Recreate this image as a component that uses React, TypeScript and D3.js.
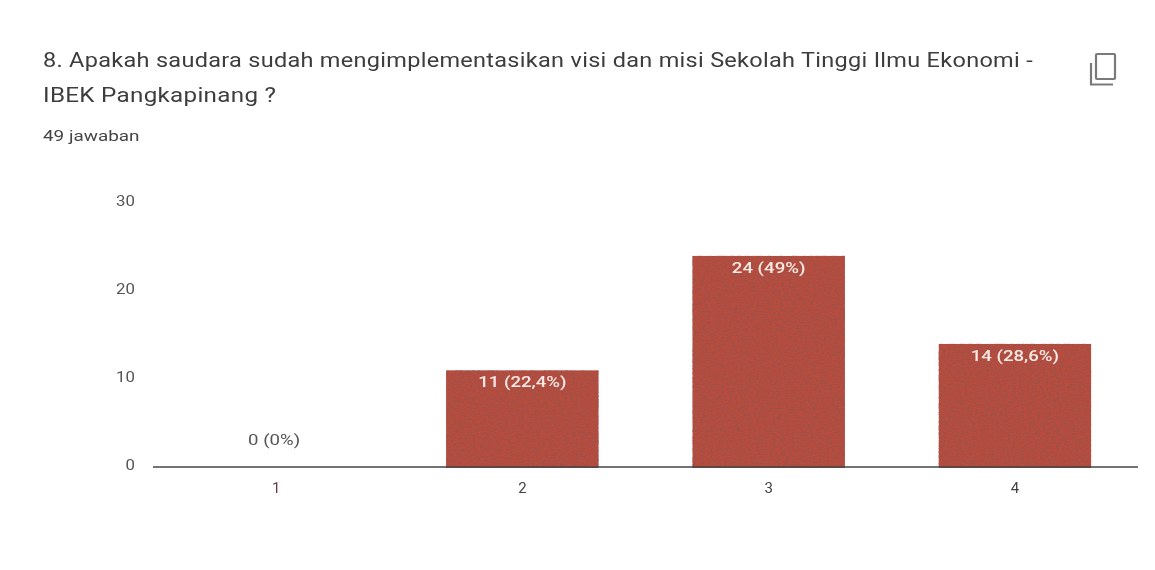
import React from "react";
import * as d3 from "d3";

const categories = ["1", "2", "3", "4"];
const counts = [0, 11, 24, 14];
const valueLabels = ["0 (0%)", "11 (22,4%)", "24 (49%)", "14 (28,6%)"];
const yTicks = [0, 10, 20, 30];
const titleLines = [
  "8. Apakah saudara sudah mengimplementasikan visi dan misi Sekolah Tinggi Ilmu Ekonomi -",
  "IBEK Pangkapinang ?",
];
const responseCount = "49 jawaban";

const W = 1155;
const H = 570;
const font = "Roboto, sans-serif";

// The reference is a horizontally stretched scan, so text is widened around its anchor.
function Wide(props: { x: number; y: number; sx: number; children: React.ReactNode; [k: string]: any }) {
  const { x, y, sx, children, ...rest } = props;
  return (
    <text transform={`translate(${x},${y}) scale(${sx},1)`} {...rest}>
      {children}
    </text>
  );
}

export default function App() {
  const x = d3.scaleBand<string>().domain(categories).range([153, 1138]).paddingInner(0.38).paddingOuter(0.19);
  const y = d3.scaleLinear().domain([0, 30]).range([467, 203]);
  return (
    <svg width={W} height={H} viewBox={`0 0 ${W} ${H}`} style={{ position: "absolute", left: 0, top: 0, background: "#fff" }} fontFamily={font}>
      <defs>
        <filter id="grain" x="0" y="0" width="1" height="1">
          <feTurbulence type="fractalNoise" baseFrequency="0.37 0.71" numOctaves="3" seed="11" result="n" />
          <feColorMatrix in="n" type="matrix" values="0 0 0 0 0.36  0 0 0 0 0.08  0 0 0 0 0.06  5 0 0 0 -2.05" result="dark" />
          <feMerge>
            <feMergeNode in="SourceGraphic" />
            <feMergeNode in="dark" />
          </feMerge>
          <feComposite in2="SourceAlpha" operator="in" />
        </filter>
        <filter id="soft"><feGaussianBlur stdDeviation="0.4" /></filter>
      </defs>
      <g filter="url(#soft)">
        {titleLines.map((t, i) => (
          <Wide key={t} x={43} y={67 + i * 35} sx={i === 0 ? 1.175 : 1.21} fontSize={20} fill="#3c3c3c" letterSpacing={0.25}>{t}</Wide>
        ))}
        <Wide x={43} y={141} sx={1.35} fontSize={14} fill="#444">{responseCount}</Wide>
        <g fill="none" stroke="#7a7a7a" strokeWidth={2.2}>
          <rect x={1096} y={54} width={19} height={25} rx={1} />
          <path d="M1091 63 V84.5 H1113" />
        </g>
        {yTicks.map((t) => (
          <Wide key={t} x={135} y={y(t) - 2} sx={1.2} dy="0.35em" textAnchor="end" fontSize={14} fill="#555">{t}</Wide>
        ))}
      </g>
      {categories.map((c, i) =>
        counts[i] > 0 ? (
          <rect key={c} x={x(c)} y={y(counts[i])} width={x.bandwidth()} height={y(0) - y(counts[i]) + 1} fill="#bb4c3e" filter="url(#grain)" />
        ) : null
      )}
      <line x1={153} x2={1138} y1={467} y2={467} stroke="#444" strokeWidth={1.6} />
      <g filter="url(#soft)">
        {categories.map((c, i) => (
          <text key={c} x={x(c)! + x.bandwidth() / 2} y={493} textAnchor="middle" fontSize={15} fill={i === 0 ? "#6b3a44" : "#444"}>{c}</text>
        ))}
        {categories.map((c, i) => (
          <Wide
            key={c}
            x={x(c)! + x.bandwidth() / 2 - (i === 0 ? 2 : 0)}
            y={counts[i] ? y(counts[i]) + 17 : y(0) - 22}
            sx={1.33}
            textAnchor="middle"
            fontSize={14}
            fontWeight={counts[i] ? 500 : 400}
            fill={counts[i] ? "#f8ebe6" : "#555"}
          >
            {valueLabels[i]}
          </Wide>
        ))}
      </g>
    </svg>
  );
}
